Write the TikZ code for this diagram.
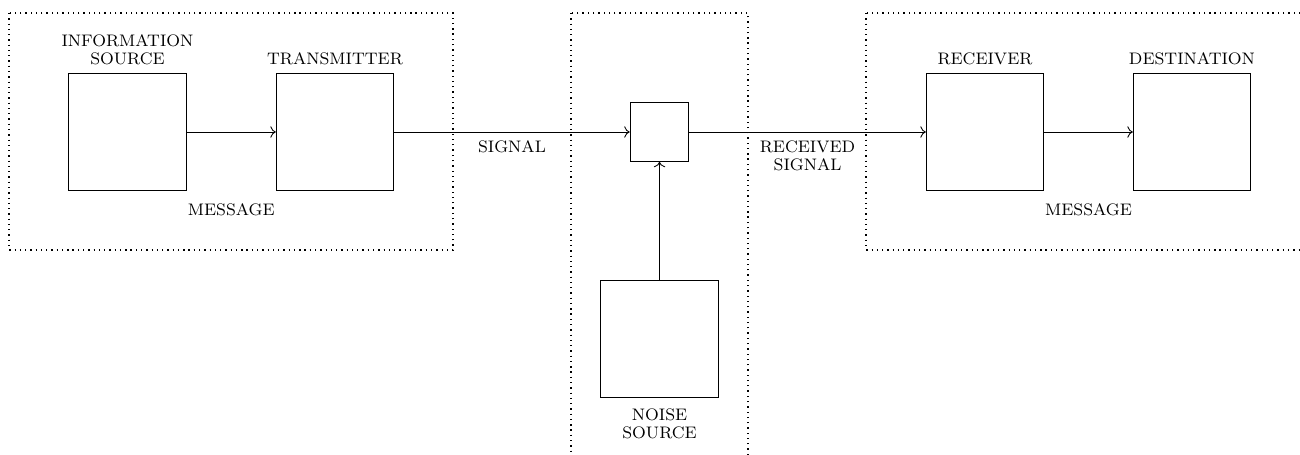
\documentclass[tikz,border=0pt]{standalone}
\usepackage{tikz}
\usetikzlibrary{arrows.meta, positioning, calc}

\begin{document}
\begin{tikzpicture}[
      font=\fontsize{7.6}{8.2}\selectfont,
      blk/.style={draw, minimum size=1.88cm, inner sep=0pt},
      mix/.style={draw, minimum size=0.94cm, inner sep=0pt},
      lbl/.style={align=center, inner sep=1pt},
      frame/.style={line width=0.6pt, dash pattern=on 0.6pt off 1.8pt},
      flow/.style={->},
    ]
    \useasboundingbox (0,0) rectangle (20.8,-7.28);
    % block x positions
    \def\xs{2.04} \def\xt{5.36} \def\xm{10.552} \def\xr{15.76} \def\xd{19.072}
    \def\yl{-2.112}

    % --- dotted frames ---
    \draw[frame] (0.144,-0.208) rectangle (7.248,-4.0);
    \draw[frame] (9.136,-0.208) rectangle (11.968,-7.6);
    \draw[frame] (13.856,-0.208) rectangle (20.96,-4.0);

    % --- blocks ---
    \node[blk] (src)   at (\xs,\yl) {};
    \node[blk] (tx)    at (\xt,\yl) {};
    \node[mix] (mixer) at (\xm,\yl) {};
    \node[blk] (rx)    at (\xr,\yl) {};
    \node[blk] (dst)   at (\xd,\yl) {};
    \node[blk] (noise) at (\xm,-5.424) {};

    % --- block titles ---
    \node[lbl, above=0.9mm of src] (srclbl) {INFORMATION\\SOURCE};
    \node[lbl, above=0.9mm of tx]  (txlbl)  {TRANSMITTER};
    \node[lbl, above=0.9mm of rx]  (rxlbl)  {RECEIVER};
    \node[lbl, above=0.9mm of dst] (dstlbl) {DESTINATION};
    \node[lbl, below=1.2mm of noise] (noiselbl) {NOISE\\SOURCE};

    % --- connectors ---
    \draw[flow] (src) -- (tx);
    \draw[flow] (tx) -- node[below=1mm, lbl] (siglbl) {SIGNAL} (mixer);
    \draw[flow] (mixer) -- node[below=1mm, lbl] (rsiglbl) {RECEIVED\\SIGNAL} (rx);
    \draw[flow] (rx) -- (dst);
    \draw[flow] (noise) -- (mixer);

    % --- message labels ---
    \node[lbl, below=1.6mm] (msgl) at ($(src.south east)!0.5!(tx.south west)$) {MESSAGE};
    \node[lbl, below=1.6mm] (msgr) at ($(rx.south east)!0.5!(dst.south west)$) {MESSAGE};
  \end{tikzpicture}
\end{document}
